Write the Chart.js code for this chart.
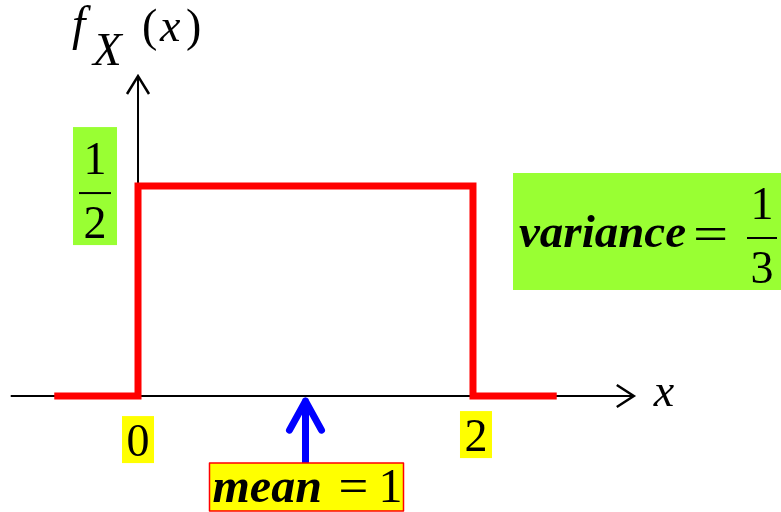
<!DOCTYPE html>
<html>
<head>
<meta charset="utf-8">
<script src="https://cdn.jsdelivr.net/npm/chart.js@4.4.1/dist/chart.umd.min.js"></script>
<style>
  html, body { margin: 0; padding: 0; background: #fff; }
  canvas { display: block; }
</style>
</head>
<body>
<canvas id="uniformChart" width="781" height="512"></canvas>
<script>
// uniform density on [0, 2]
const pdfX = [-0.5, 0, 0, 2, 2, 2.5];
const pdfY = [0, 0, 0.5, 0.5, 0, 0];
const xTicks = [0, 2];
const xTickLabels = ['0', '2'];
const yTick = 0.5;
const yTickLabel = ['1', '2'];      // fraction 1/2
const meanValue = 1;
const meanLabel = ['mean', '=', '1'];
const varianceLabel = ['variance', '=', '1', '3'];
const xAxisEnds = [-0.76, 2.96];
const yAxisTop = 0.762;

const serif = "'Liberation Serif', 'Times New Roman', serif";
const green = '#99ff33';
const yellow = '#ffff00';

function fraction(ctx, cx, barY, num, den, size, barW) {
    ctx.font = size + 'px ' + serif;
    ctx.textAlign = 'center';
    ctx.fillText(num, cx, barY - 19);
    ctx.fillText(den, cx, barY + 45);
    ctx.fillRect(cx - barW / 2, barY - 1, barW, 2);
}

// the equals signs in the picture are a bit wider than the font's
function wideEquals(ctx, x, y, size, sx) {
    ctx.save();
    ctx.font = size + 'px ' + serif;
    ctx.textAlign = 'left';
    ctx.translate(x, y);
    ctx.scale(sx, 1);
    ctx.fillText('=', 0, 0);
    ctx.restore();
}

const diagram = {
    id: 'diagram',
    beforeDatasetsDraw(chart) {
        const { ctx, scales: { x, y } } = chart;
        const x0 = x.getPixelForValue(0), y0 = y.getPixelForValue(0);
        const xl = x.getPixelForValue(xAxisEnds[0]);
        const xr = x.getPixelForValue(xAxisEnds[1]);
        const yt = y.getPixelForValue(yAxisTop);
        ctx.save();
        ctx.strokeStyle = '#000';
        ctx.lineWidth = 2;
        ctx.beginPath();
        ctx.moveTo(xl, y0); ctx.lineTo(xr, y0);
        ctx.moveTo(x0, y0); ctx.lineTo(x0, yt);
        ctx.stroke();
        // arrow heads
        ctx.lineWidth = 2.5;
        ctx.beginPath();
        ctx.moveTo(xr - 17, y0 - 11); ctx.lineTo(xr, y0); ctx.lineTo(xr - 17, y0 + 11);
        ctx.moveTo(x0 - 11, yt + 18); ctx.lineTo(x0, yt); ctx.lineTo(x0 + 11, yt + 18);
        ctx.stroke();
        ctx.restore();
    },
    afterDatasetsDraw(chart) {
        const { ctx, scales: { x, y } } = chart;
        const x0 = x.getPixelForValue(0), y0 = y.getPixelForValue(0);
        const yh = y.getPixelForValue(yTick);
        ctx.save();
        ctx.fillStyle = '#000';
        ctx.textBaseline = 'alphabetic';
        ctx.textAlign = 'left';

        // f_X (x)
        ctx.font = 'italic 48px ' + serif;
        ctx.fillText('f', x0 - 66, 40);
        ctx.font = 'italic 47px ' + serif;
        ctx.fillText('X', x0 - 45, 65);
        ctx.font = '46px ' + serif;
        ctx.fillText('(', x0 + 4, 41);
        ctx.fillText(')', x0 + 48, 41);
        ctx.font = 'italic 46px ' + serif;
        ctx.fillText('x', x0 + 22, 41);

        // x label
        ctx.fillText('x', x.getPixelForValue(xAxisEnds[1]) + 20, y0 + 10);

        // y tick 1/2
        ctx.fillStyle = green;
        ctx.fillRect(x0 - 65, yh - 59, 44, 118);
        ctx.fillStyle = '#000';
        fraction(ctx, x0 - 43, yh + 7, yTickLabel[0], yTickLabel[1], 46, 32);

        // x ticks
        xTicks.forEach((v, i) => {
            const px = x.getPixelForValue(v) + i * 3;
            const top = i === 0 ? y0 + 20 : y0 + 15;
            ctx.fillStyle = yellow;
            ctx.fillRect(px - 16, top, 32, 47);
            ctx.fillStyle = '#000';
            ctx.font = '46px ' + serif;
            ctx.textAlign = 'center';
            ctx.fillText(xTickLabels[i], px, top + 40);
        });

        // variance box
        ctx.fillStyle = green;
        ctx.fillRect(513, 173, 268, 117);
        ctx.fillStyle = '#000';
        ctx.textAlign = 'left';
        ctx.font = 'bold italic 47px ' + serif;
        ctx.fillText(varianceLabel[0], 519, 247);
        wideEquals(ctx, 693, 250, 48, 1.3);
        fraction(ctx, 762, 238, varianceLabel[2], varianceLabel[3], 46, 30);

        // mean arrow and box
        const xm = x.getPixelForValue(meanValue);
        ctx.strokeStyle = '#0000ff';
        ctx.lineWidth = 7;
        ctx.lineCap = 'round';
        ctx.lineJoin = 'round';
        ctx.beginPath();
        ctx.moveTo(xm, y0 + 67); ctx.lineTo(xm, y0 + 5);
        ctx.moveTo(xm - 16, y0 + 34); ctx.lineTo(xm, y0 + 5); ctx.lineTo(xm + 16, y0 + 34);
        ctx.stroke();

        ctx.fillStyle = yellow;
        ctx.fillRect(xm - 96, y0 + 67, 194, 48);
        ctx.strokeStyle = '#ff0000';
        ctx.lineWidth = 1.5;
        ctx.strokeRect(xm - 96, y0 + 67, 194, 48);
        ctx.fillStyle = '#000';
        ctx.textAlign = 'left';
        ctx.font = 'bold italic 48px ' + serif;
        ctx.fillText(meanLabel[0], xm - 93, y0 + 106);
        wideEquals(ctx, xm + 33, y0 + 106, 48, 1.1);
        ctx.font = '48px ' + serif;
        ctx.fillText(meanLabel[2], xm + 73, y0 + 106);
        ctx.restore();
    }
};

function draw() {
    new Chart(document.getElementById('uniformChart').getContext('2d'), {
        type: 'scatter',
        data: {
            datasets: [{
                data: pdfX.map((v, i) => ({ x: v, y: pdfY[i] })),
                showLine: true,
                borderColor: '#ff0000',
                borderWidth: 7,
                borderJoinStyle: 'miter',
                borderCapStyle: 'butt',
                pointRadius: 0,
                tension: 0
            }]
        },
        options: {
            responsive: false,
            animation: false,
            layout: { padding: 0 },
            plugins: {
                legend: { display: false },
                tooltip: { enabled: false }
            },
            scales: {
                x: { type: 'linear', display: false, min: -0.824, max: 3.839 },
                y: { type: 'linear', display: false, min: -0.276, max: 0.943 }
            }
        },
        plugins: [diagram]
    });
}

Promise.all([
    document.fonts.load("48px 'Liberation Serif'"),
    document.fonts.load("italic 48px 'Liberation Serif'"),
    document.fonts.load("bold italic 48px 'Liberation Serif'")
]).then(draw, draw);
</script>
</body>
</html>
